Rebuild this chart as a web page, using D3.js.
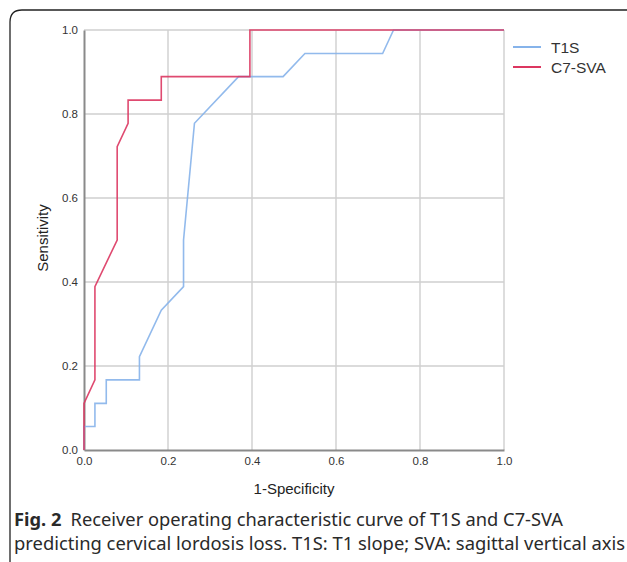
<!DOCTYPE html>
<html>
<head>
<meta charset="utf-8">
<script src="https://cdn.jsdelivr.net/npm/d3@7.9.0/dist/d3.min.js"></script>
<style>
  html, body { margin: 0; padding: 0; background: #fff; }
  svg { display: block; }
</style>
</head>
<body>
<svg id="chart" width="627" height="562"></svg>
<script>
// ---- data ----
const t1sFpr  = [0, 0, 0.026, 0.026, 0.053, 0.053, 0.132, 0.132, 0.184, 0.237, 0.237, 0.263, 0.368, 0.474, 0.526, 0.711, 0.737, 1];
const t1sTpr  = [0, 0.056, 0.056, 0.111, 0.111, 0.167, 0.167, 0.222, 0.333, 0.389, 0.5, 0.778, 0.889, 0.889, 0.944, 0.944, 1, 1];
const svaFpr  = [0, 0, 0.026, 0.026, 0.079, 0.079, 0.105, 0.105, 0.184, 0.184, 0.395, 0.395, 1];
const svaTpr  = [0, 0.111, 0.167, 0.389, 0.5, 0.722, 0.778, 0.833, 0.833, 0.889, 0.889, 1, 1];
const tickVals = [0, 0.2, 0.4, 0.6, 0.8, 1.0];
const seriesNames = ['T1S', 'C7-SVA'];
const seriesColors = ['#86b3ea', '#dc3660'];

const series = [
  { name: seriesNames[0], color: seriesColors[0], pts: t1sFpr.map((x, i) => [x, t1sTpr[i]]) },
  { name: seriesNames[1], color: seriesColors[1], pts: svaFpr.map((x, i) => [x, svaTpr[i]]) }
];

const svg = d3.select('#chart');

// frame around the figure
svg.append('path')
  .attr('d', 'M10,562 L10,22 Q10,10 22,10 L640,10')
  .attr('fill', 'none')
  .attr('stroke', '#222')
  .attr('stroke-width', 1.3);

const x = d3.scaleLinear().domain([0, 1]).range([84, 504]);
const y = d3.scaleLinear().domain([0, 1]).range([450, 30]);

// grid
svg.append('g').selectAll('line').data(tickVals.slice(1)).join('line')
  .attr('x1', d => x(d)).attr('x2', d => x(d))
  .attr('y1', y(0)).attr('y2', y(1))
  .attr('stroke', '#cfcfcf').attr('stroke-width', 1.4);
svg.append('g').selectAll('line').data(tickVals.slice(1)).join('line')
  .attr('x1', x(0)).attr('x2', x(1))
  .attr('y1', d => y(d)).attr('y2', d => y(d))
  .attr('stroke', '#cfcfcf').attr('stroke-width', 1.4);

// axes
const xAxis = svg.append('g').attr('transform', `translate(0,${y(0)})`)
  .call(d3.axisBottom(x).tickValues(tickVals).tickFormat(d3.format('.1f')).tickSize(0).tickPadding(7));
const yAxis = svg.append('g').attr('transform', `translate(${x(0)},0)`)
  .call(d3.axisLeft(y).tickValues(tickVals).tickFormat(d3.format('.1f')).tickSize(0).tickPadding(6));
[xAxis, yAxis].forEach(g => {
  g.select('.domain').attr('stroke', '#8a8a8a').attr('stroke-width', 2);
  g.selectAll('text').attr('font-family', 'Liberation Sans, Arial, sans-serif')
    .attr('font-size', 11.5).attr('fill', '#333');
});

// curves
const line = d3.line().x(d => x(d[0])).y(d => y(d[1]));
svg.append('g').selectAll('path').data(series).join('path')
  .attr('d', d => line(d.pts))
  .attr('fill', 'none')
  .attr('stroke', d => d.color)
  .attr('stroke-width', 1.6)
  .attr('stroke-opacity', 0.9);

// axis titles
svg.append('text').attr('x', 294).attr('y', 494).attr('text-anchor', 'middle')
  .attr('font-family', 'Liberation Sans, Arial, sans-serif').attr('font-size', 15).attr('fill', '#222')
  .text('1-Specificity');
svg.append('text').attr('transform', 'translate(48,238) rotate(-90)').attr('text-anchor', 'middle')
  .attr('font-family', 'Liberation Sans, Arial, sans-serif').attr('font-size', 15).attr('fill', '#222')
  .text('Sensitivity');

// legend
const legend = svg.append('g').selectAll('g').data(series).join('g')
  .attr('transform', (d, i) => `translate(513,${47 + i * 20})`);
legend.append('line').attr('x1', 0).attr('x2', 28)
  .attr('stroke', d => d.color).attr('stroke-width', 2);
legend.append('text').attr('x', 38).attr('dy', '0.36em')
  .attr('font-family', 'Liberation Sans, Arial, sans-serif').attr('font-size', 15.5).attr('fill', '#333')
  .text(d => d.name);

// caption
const cap = svg.append('g').attr('font-family', 'Noto Sans, sans-serif').attr('font-size', 17.5).attr('fill', '#2a2a2a');
const l1 = cap.append('text').attr('x', 14).attr('y', 526)
  .attr('textLength', 549).attr('lengthAdjust', 'spacingAndGlyphs');
l1.append('tspan').attr('font-weight', 'bold').text('Fig. 2');
l1.append('tspan').text('\u2002Receiver operating characteristic curve of T1S and C7-SVA');
cap.append('text').attr('x', 14).attr('y', 550)
  .attr('textLength', 611).attr('lengthAdjust', 'spacingAndGlyphs')
  .text('predicting cervical lordosis loss. T1S: T1 slope; SVA: sagittal vertical axis');
</script>
</body>
</html>
